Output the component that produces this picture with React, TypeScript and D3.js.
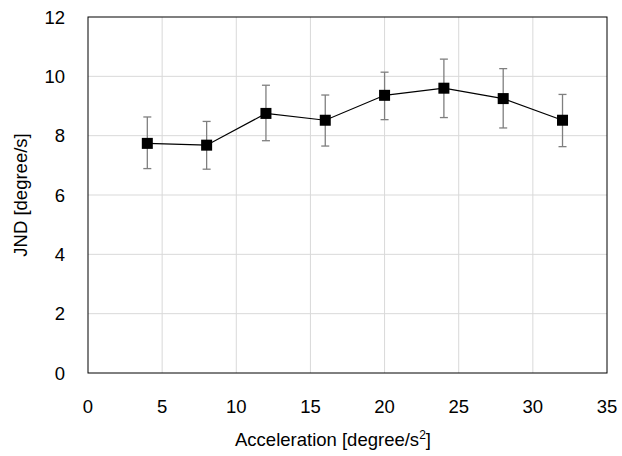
import React from "react";
import * as d3 from "d3";

const accel = [4, 8, 12, 16, 20, 24, 28, 32];
const jnd = [7.74, 7.68, 8.75, 8.52, 9.36, 9.6, 9.25, 8.52];
const errHigh = [8.63, 8.48, 9.7, 9.37, 10.14, 10.58, 10.26, 9.39];
const errLow = [6.89, 6.87, 7.83, 7.65, 8.54, 8.61, 8.26, 7.63];
const xTicks = [0, 5, 10, 15, 20, 25, 30, 35];
const yTicks = [0, 2, 4, 6, 8, 10, 12];

const W = 622, H = 456;
const left = 88, right = 607, top = 17, bottom = 373;

export default function App() {
  const x = d3.scaleLinear().domain([0, 35]).range([left, right]);
  const y = d3.scaleLinear().domain([0, 12]).range([bottom, top]);
  const line = d3.line<number>().x((_, i) => x(accel[i])).y((d) => y(d));
  const font = "'Liberation Sans', Arial, sans-serif";
  const fs = 18.5;
  return (
    <svg width={W} height={H} style={{ position: "absolute", left: 0, top: 0, background: "#fff" }}>
      {xTicks.slice(1, -1).map((t) => (
        <line key={"gx" + t} x1={x(t)} x2={x(t)} y1={top} y2={bottom} stroke="#d9d9d9" strokeWidth={1} />
      ))}
      {yTicks.slice(1, -1).map((t) => (
        <line key={"gy" + t} x1={left} x2={right} y1={y(t)} y2={y(t)} stroke="#d9d9d9" strokeWidth={1} />
      ))}
      <rect x={left} y={top} width={right - left} height={bottom - top} fill="none" stroke="#000" strokeWidth={1} />
      {accel.map((a, i) => (
        <g key={"e" + i} stroke="#7f7f7f" strokeWidth={1.3}>
          <line x1={x(a)} x2={x(a)} y1={y(errHigh[i])} y2={y(errLow[i])} />
          <line x1={x(a) - 4} x2={x(a) + 4} y1={y(errHigh[i])} y2={y(errHigh[i])} />
          <line x1={x(a) - 4} x2={x(a) + 4} y1={y(errLow[i])} y2={y(errLow[i])} />
        </g>
      ))}
      <path d={line(jnd) || ""} fill="none" stroke="#000" strokeWidth={1.2} />
      {accel.map((a, i) => (
        <rect key={"m" + i} x={x(a) - 5.5} y={y(jnd[i]) - 5.5} width={11} height={11} fill="#000" />
      ))}
      {yTicks.map((t) => (
        <text key={"yl" + t} x={65} y={y(t) + 6.5} textAnchor="end" fontFamily={font} fontSize={fs} fill="#000">{t}</text>
      ))}
      {xTicks.map((t) => (
        <text key={"xl" + t} x={x(t)} y={412.5} textAnchor="middle" fontFamily={font} fontSize={fs} fill="#000">{t}</text>
      ))}
      <text x={333} y={446} textAnchor="middle" fontFamily={font} fontSize={fs} fill="#000">
        Acceleration [degree/s<tspan dy={-7} fontSize={12}>2</tspan><tspan dy={7}>]</tspan>
      </text>
      <text transform={`translate(27,${(top + bottom) / 2}) rotate(-90)`} textAnchor="middle" fontFamily={font} fontSize={fs} fill="#000">
        JND [degree/s]
      </text>
    </svg>
  );
}
